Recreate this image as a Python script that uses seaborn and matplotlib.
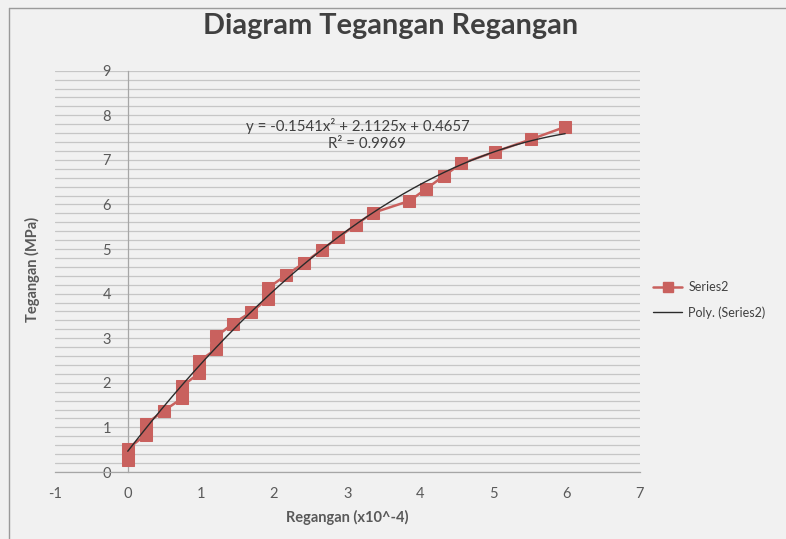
import matplotlib
matplotlib.use("Agg")
import matplotlib.pyplot as plt
import numpy as np
import pandas as pd
import seaborn as sns
from matplotlib.ticker import MultipleLocator
from matplotlib.lines import Line2D

# Measured stress-strain points
regangan = [0, 0, 0.25, 0.25, 0.49, 0.74, 0.74, 0.97, 0.97, 1.21, 1.21, 1.44, 1.69,
            1.92, 1.92, 2.17, 2.41, 2.65, 2.88, 3.12, 3.35, 3.85, 4.08, 4.32, 4.56,
            5.02, 5.51, 5.98]
tegangan = [0.28, 0.52, 0.84, 1.08, 1.37, 1.65, 1.92, 2.21, 2.48, 2.76, 3.04, 3.33, 3.59,
            3.89, 4.13, 4.42, 4.69, 4.98, 5.26, 5.55, 5.81, 6.08, 6.35, 6.64, 6.92,
            7.18, 7.46, 7.74]

# Polynomial trendline coefficients (a2, a1, a0) and R²
poly_coef = [-0.1541, 2.1125, 0.4657]
r_squared = 0.9969

x_ticks = [-1, 0, 1, 2, 3, 4, 5, 6, 7]
y_ticks = [0, 1, 2, 3, 4, 5, 6, 7, 8, 9]

sns.set_style("white")
plt.rcParams["font.family"] = ["Lato", "DejaVu Sans"]
plt.rcParams["axes.unicode_minus"] = False

W, H = 786, 539
fig = plt.figure(figsize=(W / 100, H / 100), dpi=100, facecolor="#f1f1f1")
ax = fig.add_axes([54.6 / W, 1 - 472 / H, (639.8 - 54.6) / W, (472 - 70.7) / H])
ax.set_facecolor("none")

df = pd.DataFrame({"x": regangan, "y": tegangan})
red = "#c9615e"
sns.lineplot(data=df, x="x", y="y", ax=ax, sort=False, estimator=None,
             color=red, lw=1.8, marker="s", markersize=9,
             markeredgecolor=red, markerfacecolor=red, zorder=3)

xs = np.linspace(min(regangan), max(regangan), 200)
ys = np.polyval(poly_coef, xs)
sns.lineplot(x=xs, y=ys, ax=ax, color="#2b2b2b", lw=1.0, zorder=4)

ax.set_xlim(-1, 7)
ax.set_ylim(0, 9)
ax.yaxis.set_minor_locator(MultipleLocator(0.2))
ax.set_xticks(x_ticks)
ax.set_yticks(y_ticks)

ax.grid(True, which="both", axis="y", color="#c6c6c6", lw=0.9, zorder=0)
ax.grid(False, axis="x")

for s in ["top", "right"]:
    ax.spines[s].set_visible(False)
ax.spines["left"].set_position(("data", 0))
ax.spines["left"].set_color("#a6a6a6")
ax.spines["bottom"].set_color("#a6a6a6")
ax.spines["left"].set_linewidth(0.9)
ax.spines["bottom"].set_linewidth(0.9)

ax.tick_params(axis="x", which="major", direction="out", length=4, color="#a6a6a6",
               labelsize=10.5, labelcolor="#5a5a5a", pad=7)
ax.tick_params(axis="y", which="both", length=0, labelsize=10.5,
               labelcolor="#5a5a5a", pad=12)

ax.set_xlabel("Regangan (x10^-4)", fontsize=10.5, fontweight="bold",
              color="#595959", labelpad=6)
ax.set_ylabel("Tegangan (MPa)", fontsize=10.5, fontweight="bold", color="#595959")
ax.yaxis.set_label_coords(40 / W, 0.5, transform=fig.transFigure)

a2, a1, a0 = poly_coef
eq = f"y = {a2}x² + {a1}x + {a0}"
ax.text(3.15, 7.76, eq, ha="center", va="center", fontsize=10.8, color="#404040")
ax.text(3.27, 7.36, f"R² = {r_squared}", ha="center", va="center",
        fontsize=10.8, color="#404040")

fig.text(391 / W, 1 - 26 / H, "Diagram Tegangan Regangan", ha="center", va="center",
         fontsize=20.8, fontweight="bold", color="#404040")

handles = [
    Line2D([0], [0], color=red, lw=1.8, marker="s", markersize=7,
           markerfacecolor=red, markeredgecolor=red),
    Line2D([0], [0], color="#2b2b2b", lw=1.0),
]
fig.legend(handles, ["Series2", "Poly. (Series2)"], loc="center left",
           bbox_to_anchor=(642 / W, 1 - 300 / H), frameon=False, fontsize=9,
           labelcolor="#404040", handlelength=2.3, handletextpad=0.5,
           labelspacing=1.0)
if ax.get_legend() is not None:
    ax.get_legend().remove()

# chart frame edges
fig.add_artist(Line2D([9 / W, 9 / W], [0, 1 - 8 / H], transform=fig.transFigure,
                      color="#9a9a9a", lw=1))
fig.add_artist(Line2D([9 / W, 1], [1 - 8 / H, 1 - 8 / H], transform=fig.transFigure,
                      color="#9a9a9a", lw=1))

fig.savefig("out.png", dpi=100, facecolor=fig.get_facecolor())
